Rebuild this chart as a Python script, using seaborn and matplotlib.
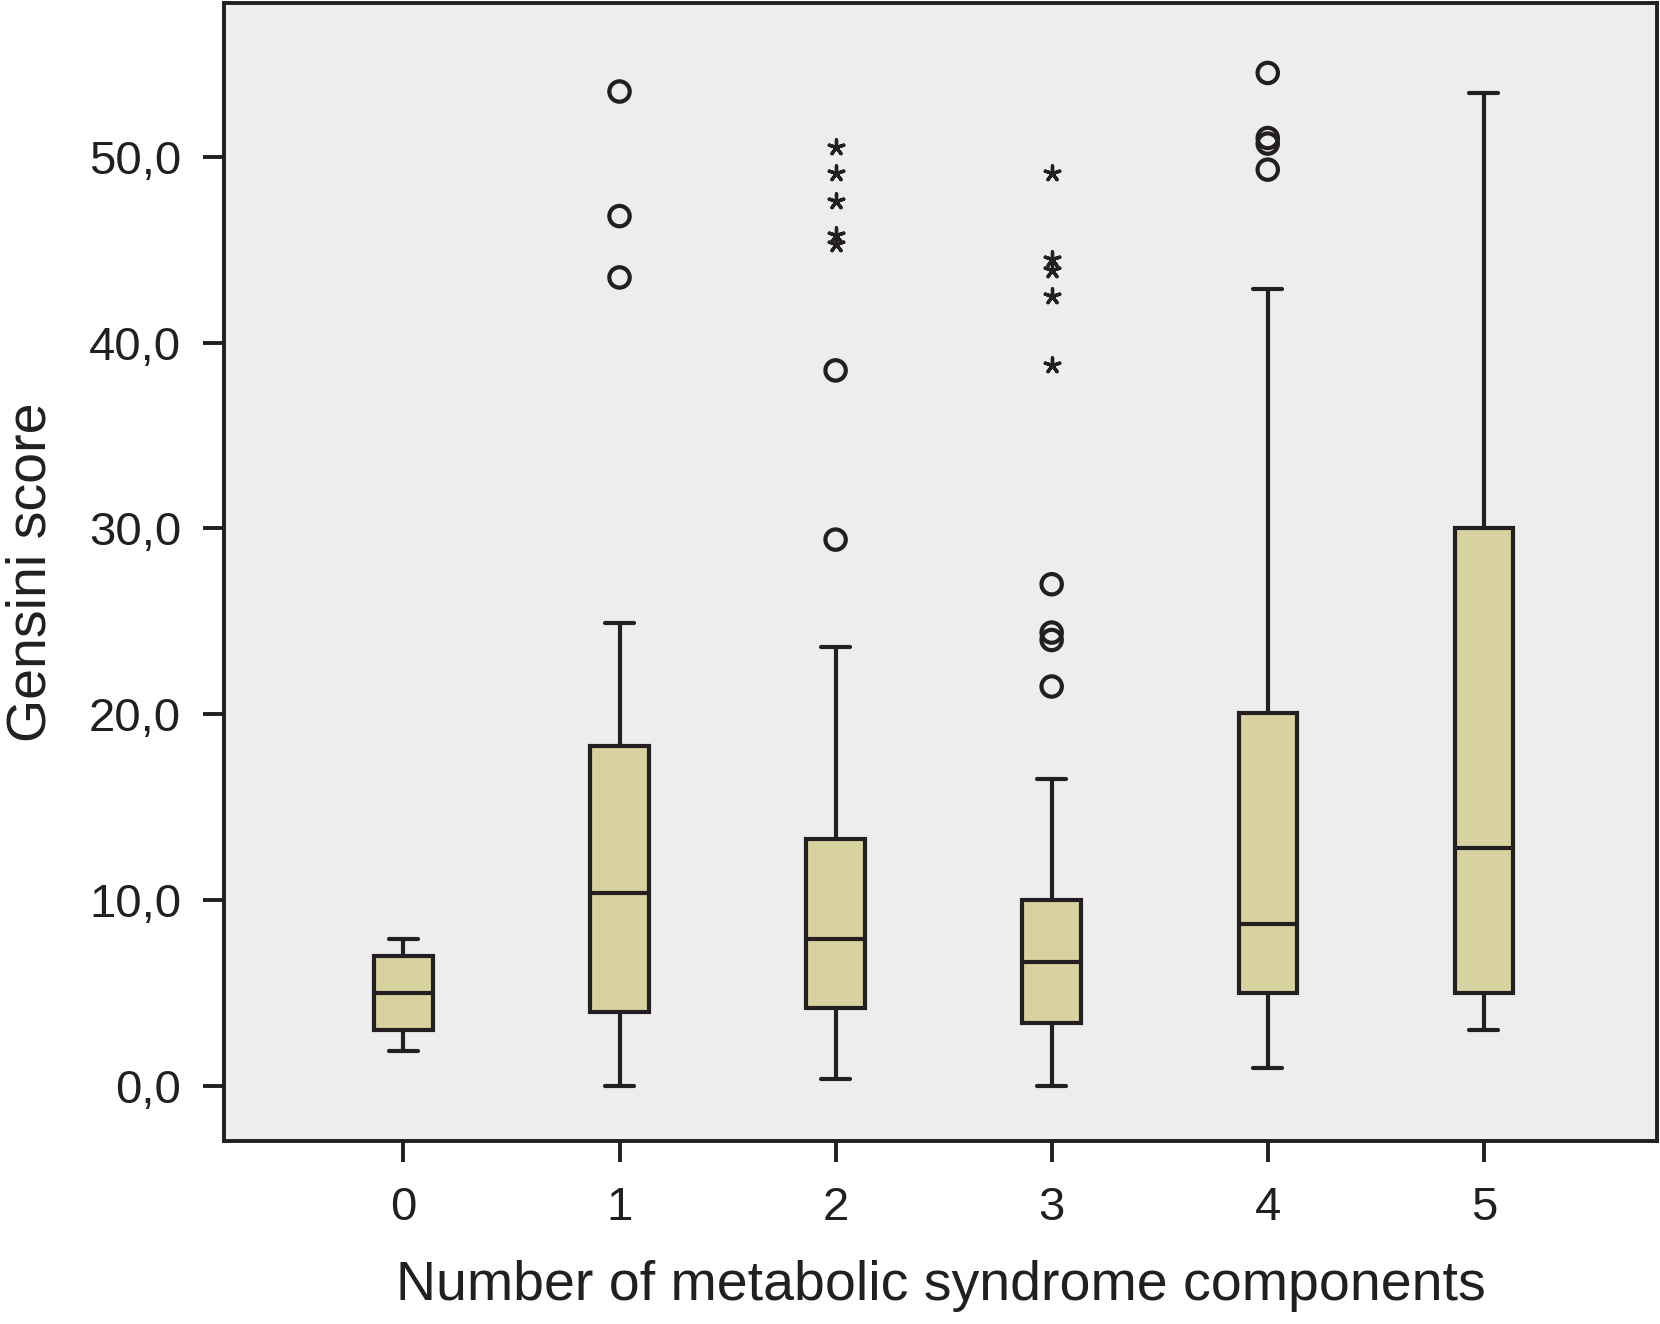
import numpy as np
import pandas as pd
import matplotlib
matplotlib.use("Agg")
import matplotlib.pyplot as plt
import seaborn as sns
from matplotlib.ticker import FuncFormatter

# ---- data ----
categories = ['0', '1', '2', '3', '4', '5']
whisker_low = [1.9, 0.0, 0.4, 0.0, 1.0, 3.0]
q1 = [3.0, 4.0, 4.2, 3.4, 5.0, 5.0]
median = [5.0, 10.4, 7.9, 6.7, 8.7, 12.8]
q3 = [7.0, 18.3, 13.3, 10.0, 20.1, 30.0]
whisker_high = [7.9, 24.9, 23.6, 16.5, 42.9, 53.4]

circle_groups = ['1', '1', '1', '2', '2', '3', '3', '3', '3', '4', '4', '4', '4']
circle_values = [53.5, 46.8, 43.5, 38.5, 29.4, 27.0, 24.4, 24.0, 21.5, 54.5, 51.0, 50.7, 49.3]
star_groups = ['2', '2', '2', '2', '2', '3', '3', '3', '3', '3']
star_values = [50.5, 49.1, 47.6, 45.8, 45.3, 49.1, 44.5, 43.9, 42.5, 38.8]

y_ticks = [0, 10, 20, 30, 40, 50]
x_label = "Number of metabolic syndrome components"
y_label = "Gensini score"

# ---- style ----
DARK = '#231F20'
sns.set_theme(style='ticks', rc={
    'axes.facecolor': '#EDEDED',
    'figure.facecolor': 'white',
    'axes.edgecolor': DARK,
    'axes.linewidth': 2.8,
    'xtick.color': DARK,
    'ytick.color': DARK,
    'xtick.major.size': 15,
    'ytick.major.size': 15,
    'xtick.major.width': 2.8,
    'ytick.major.width': 2.8,
    'xtick.major.pad': 17,
    'ytick.major.pad': 16,
    'text.color': DARK,
    'axes.labelcolor': DARK,
})
plt.rcParams['font.family'] = ['Liberation Sans', 'DejaVu Sans']

# five-number summary as long-form table; whiskers span min..max
rows = []
for c, lo, a, m, b, hi in zip(categories, whisker_low, q1, median, q3, whisker_high):
    for v in (lo, a, m, b, hi):
        rows.append({'group': c, 'value': v})
df = pd.DataFrame(rows)

fig = plt.figure(figsize=(16.6, 13.24), dpi=100)
ax = fig.add_axes([0.135, 0.138, 0.863, 0.860])

sns.boxplot(data=df, x='group', y='value', order=categories, color='#D8D1A0',
            saturation=1, width=0.27, whis=(0, 100), showfliers=False,
            linecolor=DARK, linewidth=3.0, ax=ax)

pos = {c: i for i, c in enumerate(categories)}
ax.scatter([pos[g] for g in circle_groups], circle_values, s=215, marker='o',
           facecolors='none', edgecolors=DARK, linewidths=3.0, zorder=5)
ax.scatter([pos[g] for g in star_groups], star_values, s=120, marker=(5, 2, 0),
           color=DARK, linewidths=2.4, zorder=5)

ax.set_xlim(-0.83, 5.80)
ax.set_ylim(-2.96, 58.28)
ax.set_yticks(y_ticks)
ax.yaxis.set_major_formatter(FuncFormatter(lambda v, p: f"{v:.1f}".replace('.', ',')))
ax.tick_params(axis='both', labelsize=34)
for s in ax.spines.values():
    s.set_visible(True)

ax.set_xlabel(x_label, fontsize=40)
ax.set_ylabel(y_label, fontsize=40)
ax.xaxis.set_label_coords(0.5, -0.104)
ax.yaxis.set_label_coords(-0.116, 0.5)

fig.savefig('out.png', dpi=100)
